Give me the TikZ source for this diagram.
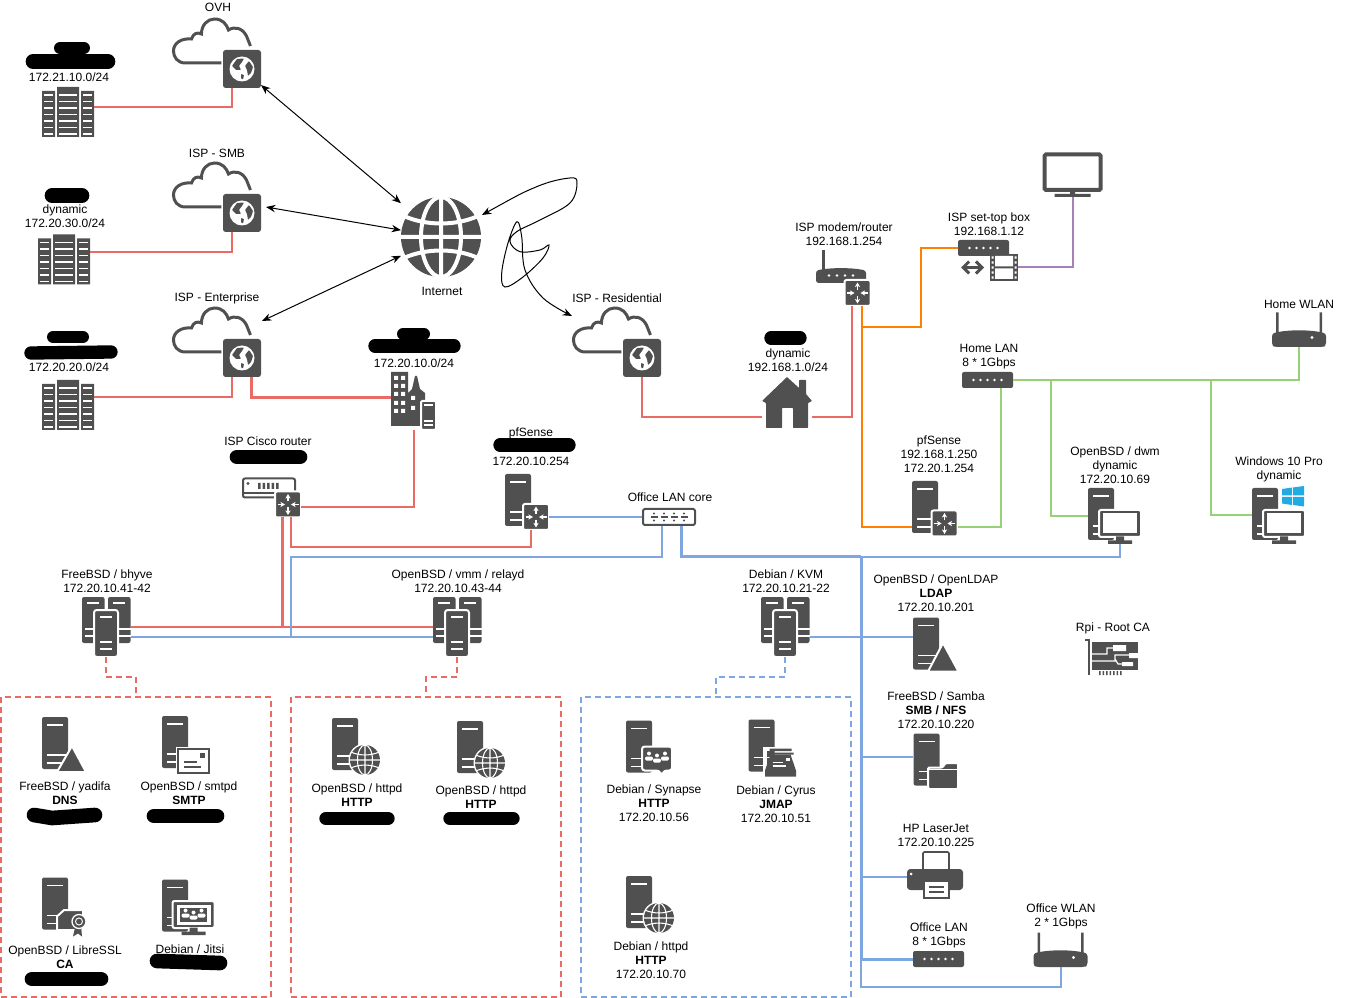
\documentclass[tikz,border=0pt]{standalone}
\usepackage{fontspec}
\setmainfont{Liberation Sans}
\usetikzlibrary{arrows.meta}
\definecolor{iconc}{HTML}{505050}
\definecolor{redl}{HTML}{EA6B66}
\definecolor{bluel}{HTML}{7EA6E0}
\definecolor{greenl}{HTML}{97D077}
\definecolor{orangel}{HTML}{FF8000}
\definecolor{purplel}{HTML}{A680B8}
\definecolor{winc}{HTML}{22ABE3}
\tikzset{
    lbl/.style={align=center,inner sep=0,xshift=.75pt,yshift=-.4pt,font=\fontsize{9}{10.5}\selectfont},
    anchorbox/.style 2 args={inner sep=0,outer sep=0,minimum width=#1*.75pt,minimum height=#2*.75pt},
    redlink/.style={redl,line width=1.5pt},
    bluelink/.style={bluel,line width=1.5pt},
    greenlink/.style={greenl,line width=1.5pt},
    orangelink/.style={orangel,line width=1.5pt},
    purplelink/.style={purplel,line width=1.5pt},
    netarrow/.style={black,line width=.75pt,{Stealth[length=7pt,width=5.5pt]}-{Stealth[length=7pt,width=5.5pt]}},
    blot/.style={black,line cap=round,line join=round},
    zone/.style={anchorbox={270}{300},draw,line width=1.5pt,dash pattern=on 4.5pt off 3pt},
    tiedash/.style={line width=1.5pt,dash pattern=on 4.5pt off 3pt},
    halo/.style={draw=white,line width=1.5pt,fill=iconc},
    pics/wwwglobe/.style={code={
        \fill[iconc] (0,0) circle[radius=40];
        \draw[white,line width=#1] (0,0) ellipse[x radius=20,y radius=40]
            (0,-40) -- (0,40) (-40,0) -- (40,0)
            (-37,-21) .. controls (-15,-11) and (15,-11) .. (37,-21)
            (-37,21) .. controls (-15,11) and (15,11) .. (37,21);
    }},
    tower/.pic={
        \node[anchorbox={26}{52}] (-a) at (0,0) {};
        \fill[iconc,rounded corners=1.5pt] (-13,-26) rectangle (13,26);
        \draw[white,line width=1.2pt] (-8,-18) -- (8,-18) (-8,12) -- (13,12) (-8,20) -- (13,20);
    },
    vmhost/.pic={
        \node[anchorbox={49}{60}] (-a) at (0,0) {};
        \foreach \x in {-24,2}{
            \fill[iconc,rounded corners=1.5pt] (\x,-30) rectangle (\x+22.5,16);
            \draw[white,line width=1pt] (\x+5,-24) -- (\x+17,-24) (\x+3,2) -- (\x+22.5,2) (\x+3,9) -- (\x+22.5,9);
        }
        \draw[halo,rounded corners=2pt] (-12,-17) rectangle (12,30);
        \draw[white,line width=1pt] (-6,-10) -- (6,-10) (-6,15) -- (6,15) (-6,22) -- (6,22);
    },
    gatebox/.pic={
        \node[anchorbox={38}{38}] (-a) at (0,0) {};
        \draw[iconc,line width=2.25pt,xshift=1.1pt] (-22,-6) -- (-58,-6)
            .. controls (-66,-6) and (-70,-12) .. (-70,-18)
            .. controls (-70,-26) and (-62,-31) .. (-52,-30)
            .. controls (-50,-36) and (-46,-37) .. (-42,-35)
            .. controls (-42,-44) and (-36,-50) .. (-29,-50)
            .. controls (-21,-50) and (-17,-45) .. (-15,-39)
            .. controls (-9,-43) and (-1,-41) .. (3,-33) -- (7,-23);
        \fill[iconc,rounded corners=2pt] (-19,-19) rectangle (19,19);
        \fill[white] (0,0) circle[radius=12.5];
        \fill[iconc,rounded corners=.5pt] (-5,-10) -- (2,-10.5) -- (0,-7) -- (-3,-3) -- (-1,1) -- (-6,1) -- (-10,-3) -- cycle;
        \fill[iconc,rounded corners=.5pt] (3,-3) -- (7,-8) -- (11,-2) -- (9,4) -- (6,7) -- (5,1) -- cycle;
        \fill[iconc,rounded corners=.5pt] (-1,5) -- (2,6) -- (1,10.5) -- (-1,9.5) -- cycle;
    },
    routerbox/.pic={
        \node[anchorbox={26}{26}] (-a) at (0,0) {};
        \draw[halo,rounded corners=1.5pt] (-13,-13) rectangle (13,13);
        \draw[white,line width=1pt,-{Stealth[length=3.5pt,width=4pt]}] (0,-3) -- (0,-10.5);
        \draw[white,line width=1pt,-{Stealth[length=3.5pt,width=4pt]}] (0,3) -- (0,10.5);
        \draw[white,line width=1pt,-{Stealth[length=3.5pt,width=4pt]}] (-10.5,0) -- (-3,0);
        \draw[white,line width=1pt,-{Stealth[length=3.5pt,width=4pt]}] (10.5,0) -- (3,0);
    },
    rackset/.pic={
        \node[anchorbox={52}{50}] (-a) at (0,0) {};
        \fill[iconc] (-26,-21) rectangle (-13,25) (-11,-25) rectangle (11,25) (13,-21) rectangle (26,25);
        \foreach \y in {-17,-10.5,...,22}{
            \draw[white,line width=1pt] (-24,\y) -- (-15,\y) (-9,\y) -- (9,\y) (15,\y) -- (24,\y);
        }
    },
    switchbox/.pic={
        \node[anchorbox={51}{16}] (-a) at (0,0) {};
        \fill[iconc,rounded corners=1.5pt] (-25.5,-8) rectangle (25.5,8);
        \foreach \x in {-14,-7,0,7,14}{\fill[white] (\x,0) circle[radius=1.4];}
    },
    monitorbox/.pic={
        \draw[halo,rounded corners=1.5pt] (-21,-13.5) rectangle (21,13.5);
        \fill[white] (-17,-10) rectangle (17,10);
        \fill[iconc] (-4,13) rectangle (4,17) (-12,17) rectangle (12,20.5);
    },
    crowd/.pic={
        \foreach \x/\y in {-8/-1,8/-1,0/1}{
            \fill[white] (\x,\y-3) circle[radius=2];
            \fill[white,rounded corners=1pt] (\x-4,\y+4) rectangle (\x+4,\y);
        }
    },
    triangleon/.pic={
        \draw[halo] (17,3) -- (2,29) -- (31,29) -- cycle;
    },
    globeon/.pic={
        \fill[white] (20,16) circle[radius=16.5];
        \pic[scale=.375,shift={(53.3,42.7)}] {wwwglobe=.8pt};
    },
    envelopeon/.pic={
        \draw[white,line width=3pt] (3,7) rectangle (34,31);
        \draw[iconc,line width=1.2pt,fill=white] (3,7) rectangle (34,31);
        \fill[iconc] (25,11) rectangle (30,16);
        \draw[iconc,line width=1pt] (9,20) -- (22,20) (9,25) -- (26,25);
    },
    certon/.pic={
        \draw[halo] (9,6.5) -- (28,6.5) -- (28,26.5) -- (2,26.5) -- (2,13) -- cycle;
        \fill[iconc] (20,24) -- (18,33) -- (23,30) -- (27,33) -- (26,22) -- cycle;
        \draw[white,line width=1pt,fill=iconc] (24,18) circle[radius=7];
        \draw[white,line width=.7pt] (24,18) circle[radius=3.5];
    },
    bubbleon/.pic={
        \draw[halo,rounded corners=2pt] (3,0) -- (33,0) -- (33,24) -- (25,24) -- (23,29) -- (20,24) -- (3,24) -- cycle;
        \pic at (18,11) {crowd};
    },
    inboxon/.pic={
        \draw[white,line width=3pt] (3.5,3) rectangle (34.5,31);
        \fill[iconc] (8,3) rectangle (30,5.5) (6,7) rectangle (32,9);
        \fill[iconc] (9,9) -- (29,9) -- (34.5,25) -- (34.5,31) -- (3.5,31) -- (3.5,25) -- cycle;
        \fill[white] (24,12) rectangle (28,15);
        \draw[white,line width=1pt] (11,17) -- (21,17) (11,20.5) -- (24,20.5);
    },
    folderon/.pic={
        \draw[halo,rounded corners=1pt] (1.5,8) -- (16,8) -- (19,3.5) -- (31.5,3.5) -- (31.5,29.5) -- (1.5,29.5) -- cycle;
        \draw[white,line width=.8pt] (2,10) -- (31,10);
    },
    filmbox/.pic={
        \node[anchorbox={28}{27}] (-a) at (0,0) {};
        \fill[iconc] (-14,-13.5) rectangle (14,13.5);
        \fill[white] (-9,-11.5) rectangle (9,-1) (-9,1) rectangle (9,11.5);
        \foreach \y in {-10,-5,0,5,10}{
            \fill[white] (-12.5,\y-1.2) rectangle (-10.5,\y+1.2) (10.5,\y-1.2) rectangle (12.5,\y+1.2);
        }
        \draw[iconc,line width=2.25pt,{Straight Barb[length=4.5pt,width=9pt]}-{Straight Barb[length=4.5pt,width=9pt]}] (-43,0) -- (-20,0);
    },
    tvbox/.pic={
        \node[anchorbox={60}{44}] (-a) at (0,0) {};
        \draw[iconc,line width=3pt,fill=white,rounded corners=1pt] (-28,-20.5) rectangle (28,15);
        \fill[iconc] (-2.5,15) rectangle (2.5,19) (-18,19) rectangle (18,22);
    },
    modembox/.pic={
        \fill[iconc,rounded corners=2pt] (-25,-5) .. controls (-10,-8) and (10,-8) .. (25,-5) -- (25,7.5) -- (-25,7.5) -- cycle;
        \fill[iconc] (-19,-25) rectangle (-16.5,-5);
        \foreach \x in {-12,-4,4,12}{\fill[white] (\x,0) circle[radius=1.4];}
    },
    wlanbox/.pic={
        \node[anchorbox={54}{17}] (-a) at (0,0) {};
        \fill[iconc,rounded corners=2pt] (-27,-5) .. controls (-12,-9) and (12,-9) .. (27,-5) -- (27,7) -- (24,8.5) -- (-24,8.5) -- (-27,7) -- cycle;
        \fill[iconc] (-23,-26) rectangle (-20.5,-5) (20.5,-26) rectangle (23,-5);
        \fill[white] (13,-1) circle[radius=1.6];
    },
    printerbox/.pic={
        \node[anchorbox={56}{46}] (-a) at (0,0) {};
        \draw[iconc,line width=1.2pt,fill=white,rounded corners=1pt] (-12,-23) rectangle (14,-4);
        \fill[iconc,rounded corners=2.5pt] (-28,-6) rectangle (28,15);
        \fill[white] (-24,-1) circle[radius=1.5];
        \draw[iconc,line width=1.5pt,fill=white] (-11,6) rectangle (14,23);
        \draw[iconc,line width=1pt] (-6,12) -- (9,12) (-6,17) -- (9,17);
    },
    rpibox/.pic={
        \draw[iconc,line width=1.2pt] (-27,-15) -- (-23,-15) -- (-23,20);
        \fill[iconc] (-20,-13) rectangle (26,15);
        \fill[iconc] \foreach \x in {-13,-9.5,...,9}{(\x,16) rectangle (\x+1.5,20)};
        \fill[white] (1,-10) rectangle (14,-4) (17,-2) rectangle (26,3) (10,7) rectangle (21,11);
        \draw[white,line width=.9pt] (-20,-1) -- (-5,-1) -- (-5,-7) -- (1,-7)
            (-20,6) -- (3,6) -- (3,0) -- (17,0) (3,4) -- (6,9) -- (10,9);
    },
}
\begin{document}
\begin{tikzpicture}[x=.75pt,y=-.75pt]
    \useasboundingbox (0,0) rectangle (1361,998);
    % zones
    \node[zone,draw=redl] (zonea) at (136,847) {};
    \node[zone,draw=redl] (zoneb) at (426,847) {};
    \node[zone,draw=bluel] (zonec) at (716,847) {};
    % internet side
    \node[anchorbox={80}{80}] (inet) at (441,237) {};
    \pic at (inet) {wwwglobe=3pt};
    \pic (gwa) at (242,69) {gatebox};
    \pic (gwb) at (242,213) {gatebox};
    \pic (gwc) at (242,358) {gatebox};
    \pic (gwd) at (642,358) {gatebox};
    \pic (racka) at (68,112) {rackset};
    \pic (rackb) at (64,259.5) {rackset};
    \pic (rackc) at (68,405) {rackset};
    % office building
    \node[anchorbox={45}{58}] (bldg) at (413.5,401) {};
    \fill[iconc] (391,372) rectangle (408,426) (408,426) -- (408,393) -- (412,389) -- (415,376) -- (417,376) -- (420,389) -- (425,393) -- (425,426) -- cycle;
    \fill[white] \foreach \y in {376,384,392,401,409}{(394,\y) rectangle (398,\y+4) (401,\y) rectangle (405,\y+4)};
    \fill[white] (411,396) rectangle (415,400) (411,406) rectangle (415,410);
    \draw[halo,rounded corners=1pt] (421,401) rectangle (436,430);
    \draw[white,line width=.8pt] (424,405) -- (433,405) (424,421) -- (433,421) (424,425) -- (433,425);
    % home
    \node[anchorbox={50}{51}] (house) at (787,402.5) {};
    \fill[iconc,rounded corners=.5pt] (787,377) -- (799,388) -- (799,380) -- (806,380) -- (806,394) -- (812,401) -- (808,403) -- (808,428) -- (793,428) -- (793,408) -- (782,408) -- (782,428) -- (766,428) -- (766,403) -- (762,401) -- cycle;
    \pic at (841,275.5) {modembox};
    \pic (modemr) at (857.5,293) {routerbox};
    \pic (stb) at (983.5,248) {switchbox};
    \pic (film) at (1004,267.5) {filmbox};
    \pic (tv) at (1072.5,175) {tvbox};
    \pic (homelan) at (987.5,380) {switchbox};
    \pic (homewlan) at (1299,338.5) {wlanbox};
    % desks
    \pic (pfhome) at (925,507) {tower};
    \pic (pfhomer) at (944.5,523.5) {routerbox};
    \pic (dwm) at (1101,514) {tower};
    \pic at (1120,523.5) {monitorbox};
    \coordinate (dwmfoot) at (1120,544);
    \pic (win) at (1265,514) {tower};
    \pic at (1284,523.5) {monitorbox};
    \fill[winc] (1282,489) -- (1292,487.5) -- (1292,495.5) -- (1282,495.5) -- cycle
        (1293,487.5) -- (1304,486) -- (1304,495.5) -- (1293,495.5) -- cycle
        (1282,497) -- (1292,497) -- (1292,505) -- (1282,503.5) -- cycle
        (1293,497) -- (1304,497) -- (1304,506.5) -- (1293,505) -- cycle;
    % office core
    \node[anchorbox={54}{18}] (cisco) at (269,488) {};
    \draw[iconc,line width=1.5pt,fill=white,rounded corners=1.5pt] (243,478.5) rectangle (295,497.5);
    \draw[iconc,line width=1pt] (243,493) -- (295,493);
    \fill[iconc] (248,483.5) circle[radius=1.7];
    \fill[iconc] \foreach \x in {258,262.5,...,276}{(\x,483) rectangle (\x+2.5,489)};
    \pic (ciscor) at (288,504.5) {routerbox};
    \pic (pfoff) at (518,500) {tower};
    \pic (pfoffr) at (536,517) {routerbox};
    \node[anchorbox={54}{18}] (core) at (669,517) {};
    \draw[iconc,line width=1.5pt,fill=white,rounded corners=1.5pt] (643,509) rectangle (695,525);
    \foreach \x in {654,664,674,684}{
        \draw[iconc,line width=1.2pt] (\x-3.5,517) -- (\x+3.5,517);
        \fill[iconc] (\x,513.5) circle[radius=1.1] (\x,520.5) circle[radius=1.1];
    }
    \pic (bhyve) at (106,627) {vmhost};
    \pic (vmm) at (457,627) {vmhost};
    \pic (kvm) at (785,627) {vmhost};
    % office side
    \pic (ldap) at (926,643.5) {tower};
    \draw[halo] (943,643) -- (928,671.5) -- (958.5,671.5) -- cycle;
    \pic (samba) at (926.5,759.5) {tower};
    \pic at (926.5,759.5) {folderon};
    \pic (hp) at (935,875) {printerbox};
    \pic (offlan) at (938.5,959) {switchbox};
    \pic (offwlan) at (1060.5,958.5) {wlanbox};
    \pic at (1112,655) {rpibox};
    % services
    \pic (yadifa) at (55,743) {tower};
    \pic at (55,743) {triangleon};
    \pic (smtpd) at (175,742) {tower};
    \pic at (175,742) {envelopeon};
    \pic (libre) at (55,903.5) {tower};
    \pic at (55,903.5) {certon};
    \pic (jitsi) at (175,905.5) {tower};
    \pic at (193.5,914.5) {monitorbox};
    \fill[iconc] (180,907.5) rectangle (207,921.5);
    \pic at (193.5,914.5) {crowd};
    \pic (httpda) at (345,744) {tower};
    \pic at (345,744) {globeon};
    \pic (httpdb) at (470,747) {tower};
    \pic at (470,747) {globeon};
    \pic (synapse) at (639,746.5) {tower};
    \pic at (639,746.5) {bubbleon};
    \pic (cyrus) at (761.5,745.5) {tower};
    \pic at (761.5,745.5) {inboxon};
    \pic (httpdc) at (639,902) {tower};
    \pic at (639,902) {globeon};
    % wan
    \draw[netarrow] (gwa-a) -- (inet);
    \draw[netarrow] ([shift={(24,-6)}]gwb-a.center) -- (inet);
    \draw[netarrow] ([shift={(20,-37)}]gwc-a.center) -- (inet);
    \coordinate (curvea) at (482,215);
    \coordinate (curveb) at (572,316);
    \draw[netarrow] plot[smooth,tension=.6] coordinates {(curvea) (536.7,186.7) (570,178) (577,183) (570,203) (540,220) (516.7,231.7) (510,241.7) (520,251.7) (540,250) (549,245) (543,258) (523,277) (505,287) (501.7,273) (508,243) (517,221.7) (521.7,236.7) (525,270) (543,298) (curveb)};
    % red
    \draw[redlink] ([shift={(0,-5)}]racka-a.east) -| ([shift={(-10,0)}]gwa-a.south);
    \draw[redlink] ([shift={(0,-7.5)}]rackb-a.east) -| ([shift={(-10,0)}]gwb-a.south);
    \draw[redlink] ([shift={(0,-8)}]rackc-a.east) -| ([shift={(-10,0)}]gwc-a.south);
    \draw[redlink,line width=2.25pt] ([shift={(9,0)}]gwc-a.south) |- ([shift={(0,-3)}]bldg.west);
    \draw[redlink] (bldg.south) |- ([shift={(0,2.5)}]ciscor-a.east);
    \draw[redlink] (bhyve-a.east) -- (vmm-a.west);
    \coordinate (redtee) at (282,627);
    \draw[redlink,line width=2.25pt] ([shift={(-6,0)}]ciscor-a.south) -- (redtee);
    \draw[redlink] ([shift={(3,0)}]ciscor-a.south) -- ++(0,30) -| ([shift={(-5,0)}]pfoffr-a.south);
    \draw[redlink] (gwd-a.south) |- ([shift={(0,14.5)}]house.west);
    \draw[redlink] ([shift={(0,14.5)}]house.east) -| ([shift={(-5.5,0)}]modemr-a.south);
    % orange
    \draw[orangelink] ([shift={(4.5,0)}]modemr-a.south) |- ([shift={(0,20)}]pfhome-a.west);
    \coordinate (orangetee) at (862,327);
    \draw[orangelink] (orangetee) -- ++(59,0) |- (stb-a.west);
    % purple
    \draw[purplelink] (film-a.east) -| (tv-a.south);
    % green
    \coordinate (greena) at (1051,380);
    \coordinate (greenb) at (1211,380);
    \draw[greenlink] (homelan-a.east) -| (homewlan-a.south);
    \draw[greenlink] ([shift={(13.5,0)}]homelan-a.south) |- ([shift={(0,3.5)}]pfhomer-a.east);
    \draw[greenlink] (greena) |- ([shift={(0,2)}]dwm-a.west);
    \draw[greenlink] (greenb) |- ([shift={(0,1)}]win-a.west);
    % blue
    \coordinate (vmbus) at (291,637);
    \coordinate (trunk) at (861,557);
    \draw[bluelink] (pfoffr-a.east) -- (core.west);
    \draw[bluelink] ([shift={(-7,0)}]core.south) -- ++(0,31) -| (vmbus);
    \draw[bluelink] ([shift={(0,10)}]bhyve-a.east) -- ([shift={(0,10)}]vmm-a.west);
    \draw[bluelink,line width=2.25pt] ([shift={(12,0)}]core.south) |- (trunk);
    \draw[bluelink] (trunk) -| (dwmfoot);
    \draw[bluelink,line width=2.25pt] (trunk) |- (offlan-a.west);
    \draw[bluelink] ([shift={(0,10)}]kvm-a.east) -- ([shift={(0,-6.5)}]ldap-a.west);
    \draw[bluelink] (trunk |- samba-a.west) ++(0,-2.5) -- ++(52,0);
    \draw[bluelink] (trunk |- hp-a.west) ++(0,2) -- ++(46,0);
    \draw[bluelink] (trunk |- offlan-a.west) -- ++(0,28) -| (offwlan-a.south);
    % dashed ties
    \draw[tiedash,redl] (bhyve-a.south) -- ++(0,20) -| (zonea.north);
    \draw[tiedash,redl] (vmm-a.south) -- ++(0,20) -| (zoneb.north);
    \draw[tiedash,bluel] (kvm-a.south) -- ++(0,20) -| (zonec.north);
    % labels
    \node[lbl] (lovh) at (217,7) {OVH};
    \node[lbl] (lsmb) at (216,153) {ISP - SMB};
    \node[lbl] (lent) at (216,298) {ISP - Enterprise};
    \node[lbl] (lres) at (616,298) {ISP - Residential};
    \node[lbl] (linet) at (441,291) {Internet};
    \node[lbl] (lneta) at (68,77) {172.21.10.0/24};
    \node[lbl] (lnetb) at (64,216) {dynamic\\172.20.30.0/24};
    \node[lbl] (lnetc) at (68,367) {172.20.20.0/24};
    \node[lbl] (lnetd) at (413,363) {172.20.10.0/24};
    \node[lbl] (lcisco) at (267,441) {ISP Cisco router};
    \node[lbl] (lpfa) at (530,433) {pfSense};
    \node[lbl] (lpfb) at (530,461) {172.20.10.254};
    \node[lbl] (lcore) at (669,497) {Office LAN core};
    \node[lbl] (lbhyve) at (106,581) {FreeBSD / bhyve\\172.20.10.41-42};
    \node[lbl] (lvmm) at (457,581) {OpenBSD / vmm / relayd\\172.20.10.43-44};
    \node[lbl] (lkvm) at (785,581) {Debian / KVM\\172.20.10.21-22};
    \node[lbl] (lldap) at (935,593) {OpenBSD / OpenLDAP\\\textbf{LDAP}\\172.20.10.201};
    \node[lbl] (lsamba) at (935,710) {FreeBSD / Samba\\\textbf{SMB / NFS}\\172.20.10.220};
    \node[lbl] (lhp) at (935,835) {HP LaserJet\\172.20.10.225};
    \node[lbl] (lofflan) at (938,935) {Office LAN\\8 * 1Gbps};
    \node[lbl] (loffwlan) at (1060,916) {Office WLAN\\2 * 1Gbps};
    \node[lbl] (lrpi) at (1112,628) {Rpi - Root CA};
    \node[lbl] (lhwlan) at (1298,304) {Home WLAN};
    \node[lbl] (lhlan) at (988,356) {Home LAN\\8 * 1Gbps};
    \node[lbl] (lmodem) at (843,234) {ISP modem/router\\192.168.1.254};
    \node[lbl] (lstb) at (988,224) {ISP set-top box\\192.168.1.12};
    \node[lbl] (lhome) at (787,360) {dynamic\\192.168.1.0/24};
    \node[lbl] (lpfh) at (938,454) {pfSense\\192.168.1.250\\172.20.1.254};
    \node[lbl] (ldwm) at (1114,465) {OpenBSD / dwm\\dynamic\\172.20.10.69};
    \node[lbl] (lwin) at (1278,469) {Windows 10 Pro\\dynamic};
    \node[lbl] (lyad) at (64,793) {FreeBSD / yadifa\\\textbf{DNS}};
    \node[lbl] (lsmtp) at (188,793) {OpenBSD / smtpd\\\textbf{SMTP}};
    \node[lbl] (lca) at (64,957) {OpenBSD / LibreSSL\\\textbf{CA}};
    \node[lbl] (ljit) at (189,949) {Debian / Jitsi};
    \node[lbl] (lhta) at (356,795) {OpenBSD / httpd\\\textbf{HTTP}};
    \node[lbl] (lhtb) at (480,797) {OpenBSD / httpd\\\textbf{HTTP}};
    \node[lbl] (lsyn) at (653,803) {Debian / Synapse\\\textbf{HTTP}\\172.20.10.56};
    \node[lbl] (lcyr) at (775,804) {Debian / Cyrus\\\textbf{JMAP}\\172.20.10.51};
    \node[lbl] (lhtc) at (650,960) {Debian / httpd\\\textbf{HTTP}\\172.20.10.70};
    % blots
    \draw[blot,line width=9pt] (60,48) -- (84,48);
    \draw[blot,line width=11pt] (33,61.5) -- (108,61.5);
    \draw[blot,line width=11pt] (52,195.5) -- (82,195.5);
    \draw[blot,line width=9pt] (53,337) -- (83,337);
    \draw[blot,line width=10pt] (31,353) -- (111,352);
    \draw[blot,line width=9pt] (403,334) -- (424,334);
    \draw[blot,line width=10pt] (375,346) -- (454,346);
    \draw[blot,line width=11pt] (237,457) -- (300,457);
    \draw[blot,line width=10pt] (500,445) -- (569,445);
    \draw[blot,line width=10pt] (771,338) -- (800,338);
    \draw[blot,line width=11pt] (34,815) -- (52,818) -- (95,815);
    \draw[blot,line width=11pt] (154,816) -- (217,816);
    \draw[blot,line width=10pt] (326,818.5) -- (388,818.5);
    \draw[blot,line width=10pt] (450,818.5) -- (513,818.5);
    \draw[blot,line width=11pt] (32,979) -- (101,979);
    \draw[blot,line width=11pt] (157,961) -- (220,963);
\end{tikzpicture}
\end{document}
